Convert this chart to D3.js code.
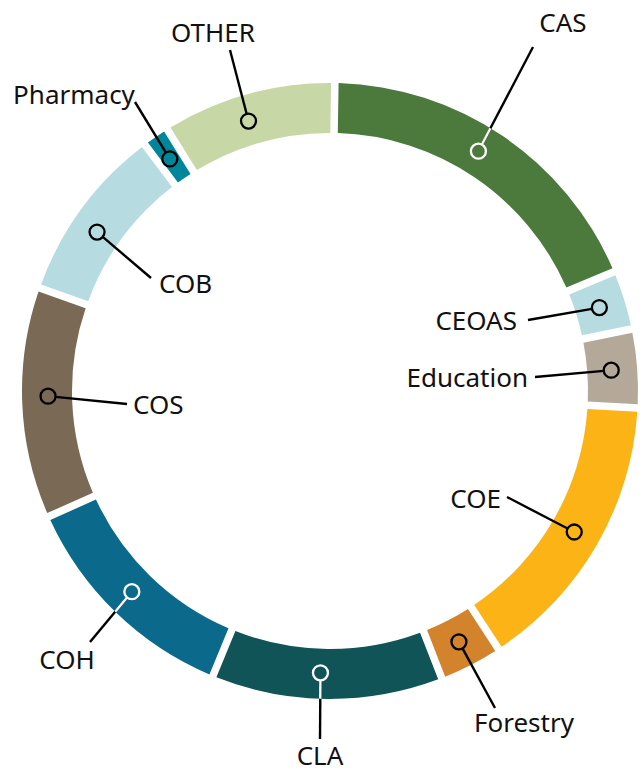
<!DOCTYPE html>
<html>
<head>
<meta charset="utf-8">
<script src="https://cdn.jsdelivr.net/npm/d3@7"></script>
<style>
  body { margin: 0; background: #fff; }
  text { font-family: "Noto Sans", "Open Sans", sans-serif; font-size: 26px; fill: #111; }
</style>
</head>
<body>
<svg width="640" height="772"></svg>
<script>
// Share of each college (percent of the ring), clockwise from the top
const colleges = ["CAS", "CEOAS", "Education", "COE", "Forestry", "CLA", "COH", "COS", "COB", "Pharmacy", "OTHER"];
const shares = [18.4, 3.1, 4.1, 14.9, 3.3, 12.1, 12.1, 12.1, 9.3, 1.4, 9.1];
const colors = ["#4c7a3d", "#b6dce2", "#b4a898", "#fbb316", "#d3832b", "#105457", "#0b6a8c", "#7a6a55", "#b6dce2", "#00869a", "#c7d7a6"];
// segments dark enough that the marker is drawn in white
const darkOnes = ["CAS", "CLA", "COH"];

// label placement: text anchor point and where the leader line ends
const labelLayout = [
  { name: "CAS",       tx: 563, ty: 32,  anchor: "middle", lx: 533, ly: 47,  shift: -2.3 },
  { name: "CEOAS",     tx: 517, ty: 330, anchor: "end",    lx: 528, ly: 320, shift: 0 },
  { name: "Education", tx: 528, ty: 387, anchor: "end",    lx: 535, ly: 377, shift: 0 },
  { name: "COE",       tx: 501, ty: 508, anchor: "end",    lx: 507, ly: 497, shift: 0 },
  { name: "Forestry",  tx: 474, ty: 732, anchor: "start",  lx: 495, ly: 708, shift: 0 },
  { name: "CLA",       tx: 320, ty: 765, anchor: "middle", lx: 320, ly: 739, shift: 1.4 },
  { name: "COH",       tx: 67,  ty: 669, anchor: "middle", lx: 90,  ly: 642, shift: 0.5 },
  { name: "COS",       tx: 133, ty: 414, anchor: "start",  lx: 127, ly: 404, shift: 1.2 },
  { name: "COB",       tx: 159, ty: 293, anchor: "start",  lx: 151, ly: 278, shift: -2 },
  { name: "Pharmacy",  tx: 74,  ty: 104, anchor: "middle", lx: 135, ly: 102, shift: -0.2 },
  { name: "OTHER",     tx: 213, ty: 42,  anchor: "middle", lx: 230, ly: 50,  shift: -1.3 }
];

const data = colleges.map((c, i) => ({ name: c, share: shares[i], color: colors[i] }));

const svg = d3.select("svg");
const cx = 330, cy = 391;
const outerR = 308, innerR = 258, markR = 282;
const startAngle = 0.9 * Math.PI / 180;

const pie = d3.pie()
  .sort(null)
  .value(d => d.share)
  .startAngle(startAngle)
  .endAngle(startAngle + 2 * Math.PI);

const arc = d3.arc()
  .innerRadius(innerR)
  .outerRadius(outerR)
  .padRadius(outerR)
  .padAngle(7.5 / outerR);

const arcs = pie(data);

const g = svg.append("g").attr("transform", `translate(${cx},${cy})`);

// clip paths so the part of a leader inside a dark segment turns white
const defs = svg.append("defs");
arcs.forEach((d, i) => {
  defs.append("clipPath").attr("id", "clip" + i)
    .append("path").attr("d", arc(d));
});

g.selectAll("path.seg")
  .data(arcs)
  .enter()
  .append("path")
  .attr("class", "seg")
  .attr("d", arc)
  .attr("fill", d => d.data.color);

// markers, leader lines and labels
const circleR = 7.5;
arcs.forEach((d, i) => {
  const lab = labelLayout.find(l => l.name === d.data.name);
  const a = (d.startAngle + d.endAngle) / 2 + lab.shift * Math.PI / 180;
  const mx = Math.sin(a) * markR, my = -Math.cos(a) * markR;
  const ex = lab.lx - cx, ey = lab.ly - cy;
  const len = Math.hypot(ex - mx, ey - my);
  const sx = mx + (ex - mx) / len * circleR, sy = my + (ey - my) / len * circleR;
  const dark = darkOnes.includes(d.data.name);

  g.append("line")
    .attr("x1", sx).attr("y1", sy).attr("x2", ex).attr("y2", ey)
    .attr("stroke", "#000").attr("stroke-width", 2.4);

  if (dark) {
    g.append("line")
      .attr("clip-path", `url(#clip${i})`)
      .attr("x1", sx).attr("y1", sy).attr("x2", ex).attr("y2", ey)
      .attr("stroke", "#fff").attr("stroke-width", 2.4);
  }

  g.append("circle")
    .attr("cx", mx).attr("cy", my).attr("r", circleR)
    .attr("fill", "none")
    .attr("stroke", dark ? "#fff" : "#000")
    .attr("stroke-width", 2.3);

  svg.append("text")
    .attr("x", lab.tx).attr("y", lab.ty)
    .attr("text-anchor", lab.anchor)
    .text(d.data.name);
});
</script>
</body>
</html>
